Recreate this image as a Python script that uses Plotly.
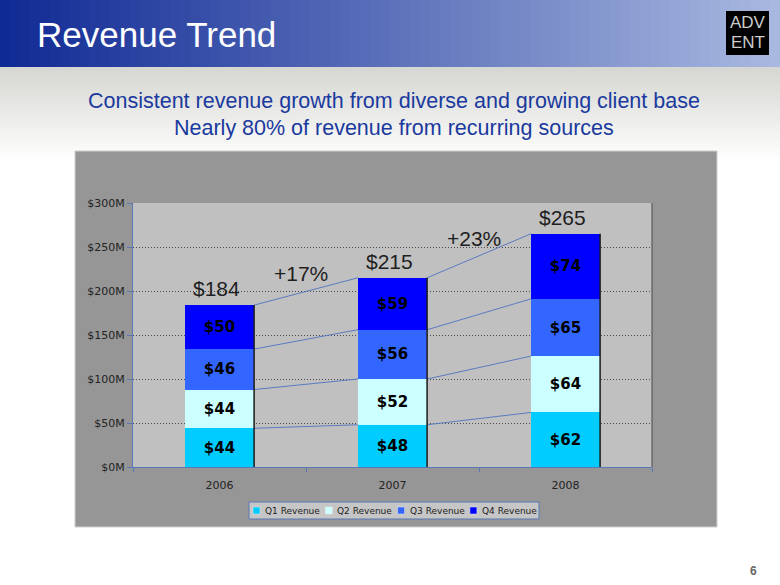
import plotly.graph_objects as go

# ---------------- data ----------------
years = ["2006", "2007", "2008"]
series_names = ["Q1 Revenue", "Q2 Revenue", "Q3 Revenue", "Q4 Revenue"]
q1_revenue = [44, 48, 62]
q2_revenue = [44, 52, 64]
q3_revenue = [46, 56, 65]
q4_revenue = [50, 59, 74]
series_values = [q1_revenue, q2_revenue, q3_revenue, q4_revenue]
series_colors = ["#00CCFF", "#CCFFFF", "#3366FF", "#0000FF"]
y_ticks = [0, 50, 100, 150, 200, 250, 300]
y_tick_labels = ["$%dM" % v for v in y_ticks]

title_text = "Revenue Trend"
subtitle_lines = ["Consistent revenue growth from diverse and growing client base",
                  "Nearly 80% of revenue from recurring sources"]

# ---------------- geometry helpers (pixel -> paper) ----------------
W, H = 780, 585
PL, PR, PT, PB = 133, 652, 203, 467
def fx(px):
    return (px - PL) / (PR - PL)
def fy(py):
    return (PB - py) / (PB - PT)

xs = list(range(len(years)))
bar_w = 0.4
totals = [sum(v[i] for v in series_values) for i in xs]

fig = go.Figure()

# stacked bars
for name, vals, col in zip(series_names, series_values, series_colors):
    fig.add_trace(go.Bar(
        x=xs, y=vals, name=name, width=bar_w, text=vals,
        marker=dict(color=col, line=dict(width=0)),
        texttemplate="<b>$%{text}</b>", textposition="inside",
        insidetextanchor="middle", textangle=0,
        textfont=dict(family="DejaVu Sans", size=15, color="#000000"),
        hoverinfo="skip", showlegend=False,
    ))

# series connector lines
cum = []
run = [0] * len(xs)
for vals in series_values:
    run = [r + v for r, v in zip(run, vals)]
    cum.append(list(run))
cx, cy = [], []
for level in cum:
    for i in range(len(xs) - 1):
        cx += [xs[i] + bar_w / 2, xs[i + 1] - bar_w / 2, None]
        cy += [level[i], level[i + 1], None]
fig.add_trace(go.Scatter(x=cx, y=cy, mode="lines",
                         line=dict(color="#5a7cc0", width=1),
                         hoverinfo="skip", showlegend=False))

# dark right edge of each bar
ex, ey = [], []
for i in xs:
    ex += [xs[i] + bar_w / 2, xs[i] + bar_w / 2, None]
    ey += [0, totals[i], None]
fig.add_trace(go.Scatter(x=ex, y=ey, mode="lines",
                         line=dict(color="#1a1a1a", width=1.5),
                         hoverinfo="skip", showlegend=False))

shapes = []
# header gradient
n = 78
c0, c1 = (16, 42, 148), (168, 184, 224)
for k in range(n):
    t = k / (n - 1)
    col = tuple(int(round(a + (b - a) * t)) for a, b in zip(c0, c1))
    shapes.append(dict(type="rect", xref="paper", yref="paper", layer="below",
                       x0=fx(k * W / n), x1=fx((k + 1) * W / n + 1),
                       y0=fy(0), y1=fy(67), line=dict(width=0),
                       fillcolor="rgb(%d,%d,%d)" % col))
# light grey fade under header
m = 24
g0, g1 = (214, 214, 210), (255, 255, 255)
for k in range(m):
    t = k / (m - 1)
    col = tuple(int(round(a + (b - a) * t)) for a, b in zip(g0, g1))
    shapes.append(dict(type="rect", xref="paper", yref="paper", layer="below",
                       x0=fx(0), x1=fx(W),
                       y0=fy(67 + k * 4), y1=fy(67 + (k + 1) * 4 + 1),
                       line=dict(width=0), fillcolor="rgb(%d,%d,%d)" % col))
# logo box
shapes.append(dict(type="rect", xref="paper", yref="paper", layer="below",
                   x0=fx(726), x1=fx(769), y0=fy(11), y1=fy(55),
                   line=dict(width=0), fillcolor="#000000"))
# chart outer frame
shapes.append(dict(type="rect", xref="paper", yref="paper", layer="below",
                   x0=fx(75), x1=fx(717), y0=fy(151), y1=fy(527),
                   line=dict(color="#cfcfcf", width=1), fillcolor="#969696"))
# plot area
shapes.append(dict(type="rect", xref="paper", yref="paper", layer="below",
                   x0=0, x1=1, y0=0, y1=1,
                   line=dict(width=0), fillcolor="#c0c0c0"))
# right border of plot area
shapes.append(dict(type="line", xref="paper", yref="paper",
                   x0=1, x1=1, y0=0, y1=1, line=dict(color="#4a4a4a", width=1)))
# legend box
shapes.append(dict(type="rect", xref="paper", yref="paper",
                   x0=fx(249), x1=fx(539), y0=fy(502), y1=fy(519),
                   line=dict(color="#5a78b4", width=1), fillcolor="#c6c6c6"))

annotations = []
for i, (name, col) in enumerate(zip(series_names, series_colors)):
    sx = 253 + i * 72.3
    shapes.append(dict(type="rect", xref="paper", yref="paper",
                       x0=fx(sx), x1=fx(sx + 7), y0=fy(507), y1=fy(514),
                       line=dict(color="#e8e8e8", width=0.5), fillcolor=col))
    annotations.append(dict(xref="paper", yref="paper", x=fx(sx + 10), y=fy(510.5),
                            xanchor="left", yanchor="middle", showarrow=False,
                            text=name, font=dict(family="DejaVu Sans", size=9, color="#222222")))

# title, subtitle, logo, page number
annotations.append(dict(xref="paper", yref="paper", x=fx(35), y=fy(35),
                        xanchor="left", yanchor="middle", showarrow=False, text=title_text,
                        font=dict(family="Liberation Sans, Arial", size=35, color="#ffffff")))
for j, line in enumerate(subtitle_lines):
    annotations.append(dict(xref="paper", yref="paper", x=fx(394), y=fy(101 + j * 27),
                            xanchor="center", yanchor="middle", showarrow=False, text=line,
                            font=dict(family="Liberation Sans, Arial", size=21.5, color="#1a3a9e")))
annotations.append(dict(xref="paper", yref="paper", x=fx(747.5), y=fy(23),
                        xanchor="center", yanchor="middle", showarrow=False, text="ADV",
                        font=dict(family="Liberation Sans, Arial", size=17, color="#cccccc")))
annotations.append(dict(xref="paper", yref="paper", x=fx(747.5), y=fy(42),
                        xanchor="center", yanchor="middle", showarrow=False, text="ENT",
                        font=dict(family="Liberation Sans, Arial", size=17, color="#cccccc")))
annotations.append(dict(xref="paper", yref="paper", x=fx(753), y=fy(571),
                        xanchor="center", yanchor="middle", showarrow=False, text="<b>6</b>",
                        font=dict(family="Liberation Sans, Arial", size=12, color="#666666")))

# totals above bars
for i in xs:
    annotations.append(dict(x=xs[i], y=totals[i], xref="x", yref="y",
                            xanchor="center", yanchor="bottom", yshift=3, xshift=-3,
                            showarrow=False, text="$%d" % totals[i],
                            font=dict(family="Liberation Sans, Arial", size=21, color="#1e1e1e")))
# growth labels
for i in range(len(xs) - 1):
    g = (totals[i + 1] / totals[i] - 1) * 100
    annotations.append(dict(x=xs[i] + 0.47, y=(totals[i] + totals[i + 1]) / 2 + 20,
                            xref="x", yref="y", xanchor="center", yanchor="middle",
                            showarrow=False, text="+%d%%" % round(g),
                            font=dict(family="Liberation Sans, Arial", size=21, color="#1e1e1e")))

fig.update_layout(
    width=W, height=H,
    margin=dict(l=PL, r=W - PR, t=PT, b=H - PB, autoexpand=False),
    paper_bgcolor="#ffffff", plot_bgcolor="rgba(0,0,0,0)",
    barmode="stack", bargap=0.6,
    shapes=shapes, annotations=annotations,
    showlegend=False,
    xaxis=dict(range=[-0.5, 2.5], tickmode="array", tickvals=xs, ticktext=years,
               ticks="", showgrid=False, zeroline=False,
               showline=True, linecolor="#5a78b4", linewidth=1,
               ticklabelstandoff=8,
               tickfont=dict(family="DejaVu Sans", size=11, color="#222222"),
               minor=dict(tickmode="array", tickvals=[-0.5, 0.5, 1.5, 2.5],
                          ticks="outside", ticklen=4, tickcolor="#5a78b4", showgrid=False)),
    yaxis=dict(range=[0, 300], tickmode="array", tickvals=y_ticks, ticktext=y_tick_labels,
               ticks="outside", ticklen=5, tickcolor="#5a78b4",
               showgrid=True, gridcolor="#4a4a4a", griddash="1px,2px", gridwidth=1,
               zeroline=False, showline=True, linecolor="#5a78b4", linewidth=1,
               tickfont=dict(family="DejaVu Sans", size=11, color="#222222")),
)

fig.write_html("out.html", config={"displayModeBar": False},
               post_script="document.body.style.margin='0';")
